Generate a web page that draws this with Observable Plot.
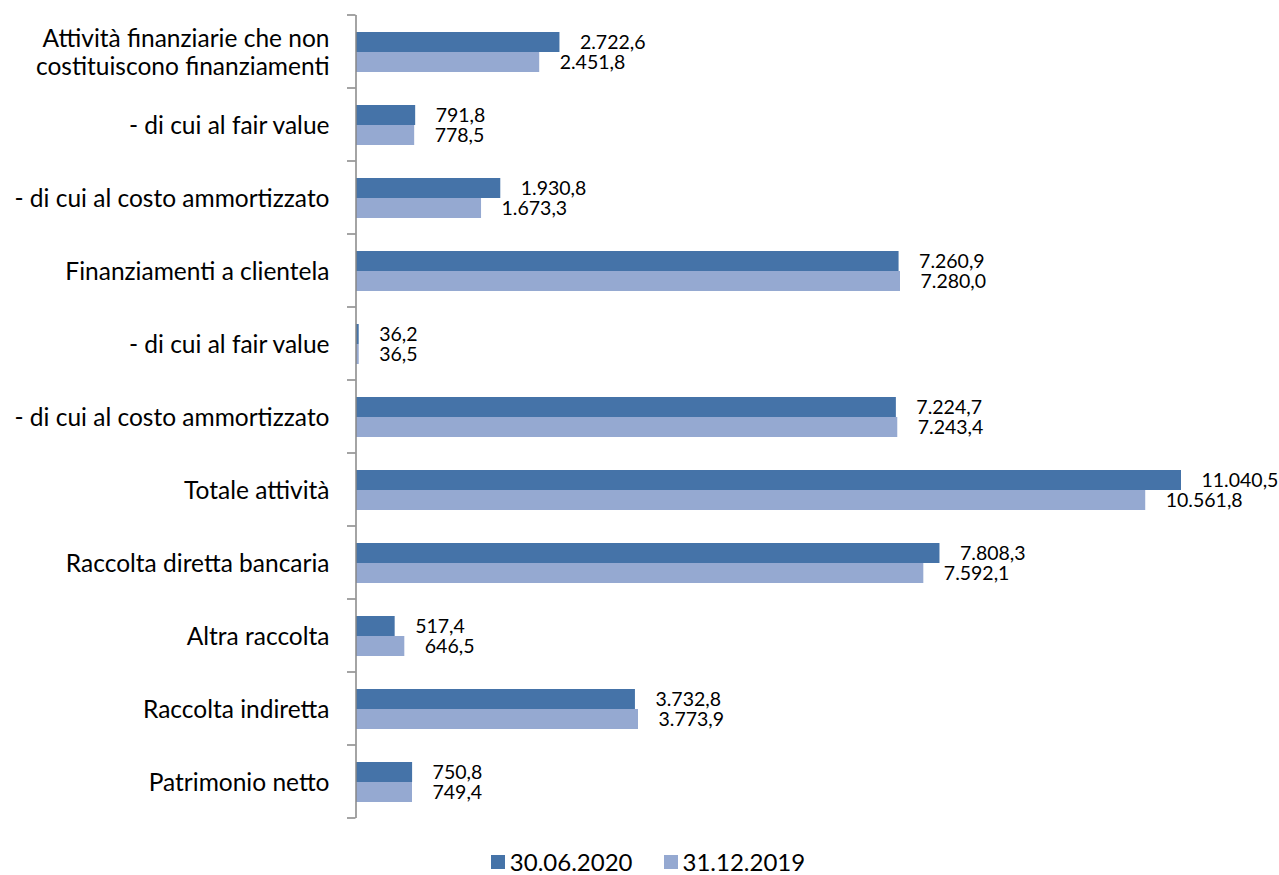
<!DOCTYPE html>
<html>
<head>
<meta charset="utf-8">
<script src="https://cdn.jsdelivr.net/npm/d3@7"></script>
<script src="https://cdn.jsdelivr.net/npm/@observablehq/plot@0.6"></script>
<style>
  html, body { margin: 0; padding: 0; background: #fff; }
  body { width: 1279px; height: 875px; overflow: hidden; font-family: Lato, "Open Sans", sans-serif; }
  #legend { display: flex; justify-content: center; gap: 31px; font-size: 24px; line-height: 28px; color: #000; margin-top: 10px; padding-left: 17px; }
  .item { display: flex; align-items: center; gap: 5px; }
  .sw { width: 14px; height: 14px; display: inline-block; }
</style>
</head>
<body>
<div id="chart"></div>
<div id="legend"></div>
<script>
const categories = [
  "Attività finanziarie che non\ncostituiscono finanziamenti",
  "- di cui al fair value",
  "- di cui al costo ammortizzato",
  "Finanziamenti a clientela",
  "- di cui al fair value",
  "- di cui al costo ammortizzato",
  "Totale attività",
  "Raccolta diretta bancaria",
  "Altra raccolta",
  "Raccolta indiretta",
  "Patrimonio netto"
];
const series = ["30.06.2020", "31.12.2019"];
const values2020 = [2722.6, 791.8, 1930.8, 7260.9, 36.2, 7224.7, 11040.5, 7808.3, 517.4, 3732.8, 750.8];
const values2019 = [2451.8, 778.5, 1673.3, 7280.0, 36.5, 7243.4, 10561.8, 7592.1, 646.5, 3773.9, 749.4];
const colors = ["#4573A8", "#95A9D1"];

const it = d3.formatLocale({decimal: ",", thousands: ".", grouping: [3], currency: ["", "€"]});
const fmt = it.format(",.1f");

const data = [];
categories.forEach((c, i) => {
  data.push({idx: i, series: series[0], value: values2020[i]});
  data.push({idx: i, series: series[1], value: values2019[i]});
});

const W = 1279, H = 838;
const plot = Plot.plot({
  width: W,
  height: H,
  marginLeft: 356,
  marginRight: 0,
  marginTop: 15,
  marginBottom: H - 818,
  style: {fontFamily: "Lato, 'Open Sans', sans-serif", fontSize: "20px", color: "#000", background: "#fff"},
  x: {domain: [0, 12352], axis: null},
  fy: {domain: d3.range(categories.length), paddingInner: 0, paddingOuter: 0, label: null},
  y: {domain: series, paddingInner: 0, paddingOuter: 0.78, axis: null},
  color: {domain: series, range: colors},
  facet: {data, y: "idx"},
  marks: [
    Plot.axisFy({anchor: "left", tickSize: 0, tickPadding: 27, fontSize: 24.5, lineHeight: 1.15, label: null, tickFormat: i => categories[i]}),
    Plot.barX(data, {x: "value", y: "series", fill: "series"}),
    Plot.text(data, {x: "value", y: "series", text: d => fmt(d.value), textAnchor: "start", dx: 20, fontSize: 19.5, fill: "#000"}),
    Plot.ruleX([0], {stroke: "#868686", strokeWidth: 1.5, dx: -0.5})
  ]
});
document.getElementById("chart").appendChild(plot);

// category separator ticks on the axis (Excel-style, between categories)
const fy = plot.scale("fy");
const svg = d3.select(plot);
const x0 = plot.scale("x").apply(0);
const bounds = fy.domain.map(d => fy.apply(d));
bounds.push(fy.apply(fy.domain[fy.domain.length - 1]) + fy.bandwidth);
svg.append("g").selectAll("line").data(bounds).join("line")
  .attr("x1", x0 - 9).attr("x2", x0 - 0.5)
  .attr("y1", d => d).attr("y2", d => d)
  .attr("stroke", "#868686").attr("stroke-width", 1.5);

const legend = document.getElementById("legend");
series.forEach((s, i) => {
  const item = document.createElement("div");
  item.className = "item";
  const sw = document.createElement("span");
  sw.className = "sw";
  sw.style.background = colors[i];
  item.appendChild(sw);
  item.appendChild(document.createTextNode(s));
  legend.appendChild(item);
});
</script>
</body>
</html>
